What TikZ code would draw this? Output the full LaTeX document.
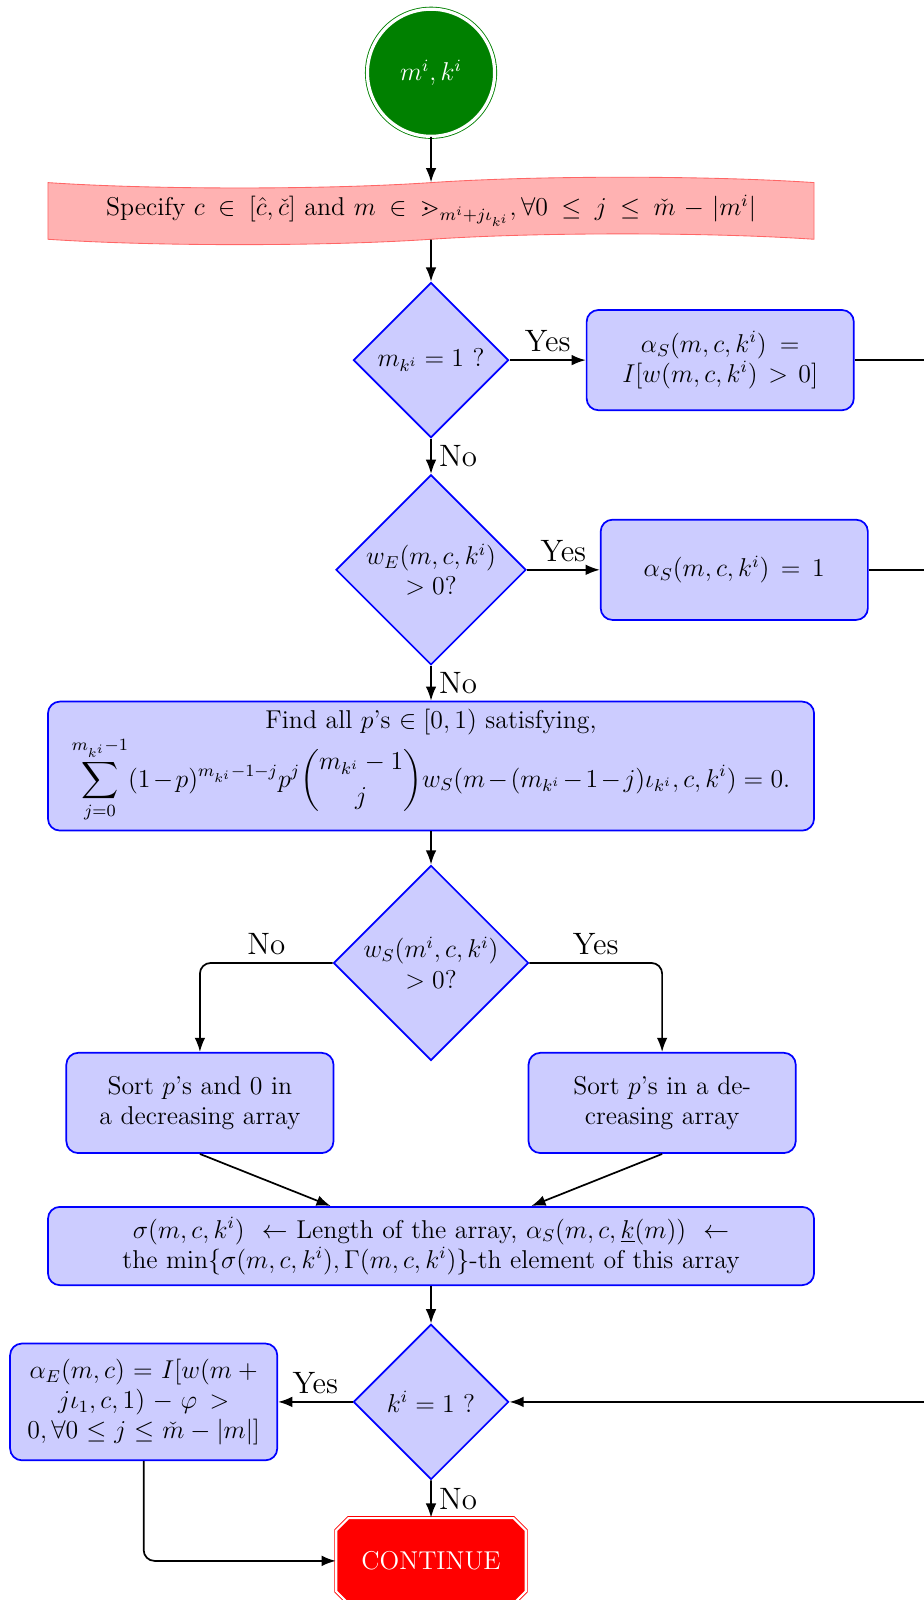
\documentclass[tikz,border=0pt]{standalone}
\usepackage{amsmath,amssymb}
\usepackage{tikz}
\usetikzlibrary{positioning, arrows.meta, shapes.geometric, shapes.symbols,
                shapes.misc}

\begin{document}
\begin{tikzpicture}[
  font=\large,
  node distance=2cm, on grid,
  startnode/.style={circle, draw=green!50!black, double=white,
    double distance=1.5pt, fill=green!50!black, text=white,
    minimum size=2.08cm},
  tapebox/.style={tape, draw=red!60, fill=red!30, minimum width=12.53cm,
    minimum height=1.1cm, text width=12.1cm, align=center},
  decision/.style={diamond, draw=blue, thick, fill=blue!20, align=center,
    inner sep=1pt, aspect=1},
  block/.style={rectangle, draw=blue, thick, fill=blue!20,
    rounded corners=5.5pt, align=center, text width=4cm,
    minimum width=4.37cm, minimum height=1.64cm},
  wideblock/.style={block, text width=12.1cm, minimum width=12.53cm},
  stopnode/.style={chamfered rectangle, draw=red, double=white,
    double distance=1pt, fill=red, text=white, minimum width=3.1cm,
    minimum height=1.4cm},
  line/.style={draw, thick, -Latex},
  answer/.style={font=\Large},
]
  \useasboundingbox (-7.05,1.19) rectangle (8.05,-24.98);

  % main column
  \node[startnode] (start) at (0,0) {$m^i,k^i$};
  \node[tapebox, below=2.26cm of start] (spec)
    {Specify $c\in[\hat{c},\check{c}]$ and
     $m\in\gtrdot_{m^i+j\iota_{k^i}},\forall 0\le j\le\check{m}-|m^i|$};
  \node[decision, minimum size=2.54cm, below=2.44cm of spec] (d1) {$m_{k^i}=1$ ?};
  \node[decision, minimum size=3.04cm, below=3.43cm of d1] (d2) {$w_E(m,c,k^i)$\\$>0$?};
  \node[wideblock, text width=11.75cm, minimum height=2.11cm, below=3.21cm of d2] (find)
    {\mbox{Find all $p$'s $\in[0,1)$ satisfying,}\\
     $\displaystyle\sum_{j=0}^{m_{k^i}-1}(1-p)^{m_{k^i}-1-j}p^j\binom{m_{k^i}-1}{j}
      w_S(m-(m_{k^i}-1-j)\iota_{k^i},c,k^i)=0.$};
  \node[decision, minimum size=3.04cm, below=3.22cm of find] (d3) {$w_S(m^i,c,k^i)$\\$>0$?};
  \node[block, below left=2.29cm and 3.78cm of d3] (sortL) {Sort $p$'s and 0 in a decreasing array};
  \node[block, below right=2.29cm and 3.78cm of d3] (sortR) {Sort $p$'s in a decreasing array};
  \node[wideblock, minimum height=1.28cm, below=4.63cm of d3] (sigma)
    {$\sigma(m,c,k^i)\leftarrow$ Length of the array, $\alpha_S(m,c,\underline{k}(m))\leftarrow$\\
     the $\min\{\sigma(m,c,k^i),\Gamma(m,c,k^i)\}$-th element of this array};
  \node[decision, minimum size=2.54cm, below=2.55cm of sigma] (d4) {$k^i=1$ ?};
  \node[stopnode, below=2.6cm of d4] (cont) {CONTINUE};

  % side blocks
  \node[block, right=4.73cm of d1] (b1) {$\alpha_S(m,c,k^i)=I[w(m,c,k^i)>0]$};
  \node[block, right=4.96cm of d2] (b2) {$\alpha_S(m,c,k^i)=1$};
  \node[block, minimum height=1.91cm, left=4.7cm of d4] (aE)
    {$\alpha_E(m,c)=I[w(m+j\iota_1,c,1)-\varphi>0,\forall 0\le j\le\check{m}-|m|]$};
  \coordinate[right=8.6cm of d4] (rt);

  % connectors
  \path[line] (start) -- (spec);
  \path[line] (spec) -- (d1);
  \path[line] (d1) -- node[answer, above]{Yes} (b1);
  \path[line] (d1) -- node[answer, right]{No} (d2);
  \path[line] (d2) -- node[answer, above]{Yes} (b2);
  \path[line] (d2) -- node[answer, right]{No} (find);
  \path[line] (find) -- (d3);
  \path[line, rounded corners=5pt] (d3) -| node[answer, above, pos=0.25]{No} (sortL);
  \path[line, rounded corners=5pt] (d3) -| node[answer, above, pos=0.25]{Yes} (sortR);
  \path[line] (sortL.south) -- (sigma);
  \path[line] (sortR.south) -- (sigma);
  \path[line] (sigma) -- (d4);
  \path[line] (d4) -- node[answer, above]{Yes} (aE);
  \path[line] (d4) -- node[answer, right]{No} (cont);
  \path[line, rounded corners=5pt] (aE) |- (cont);
  \path[line] (b1) -| (rt) -- (d4);
  \draw[thick] (b2) -- (b2 -| rt);
\end{tikzpicture}
\end{document}
